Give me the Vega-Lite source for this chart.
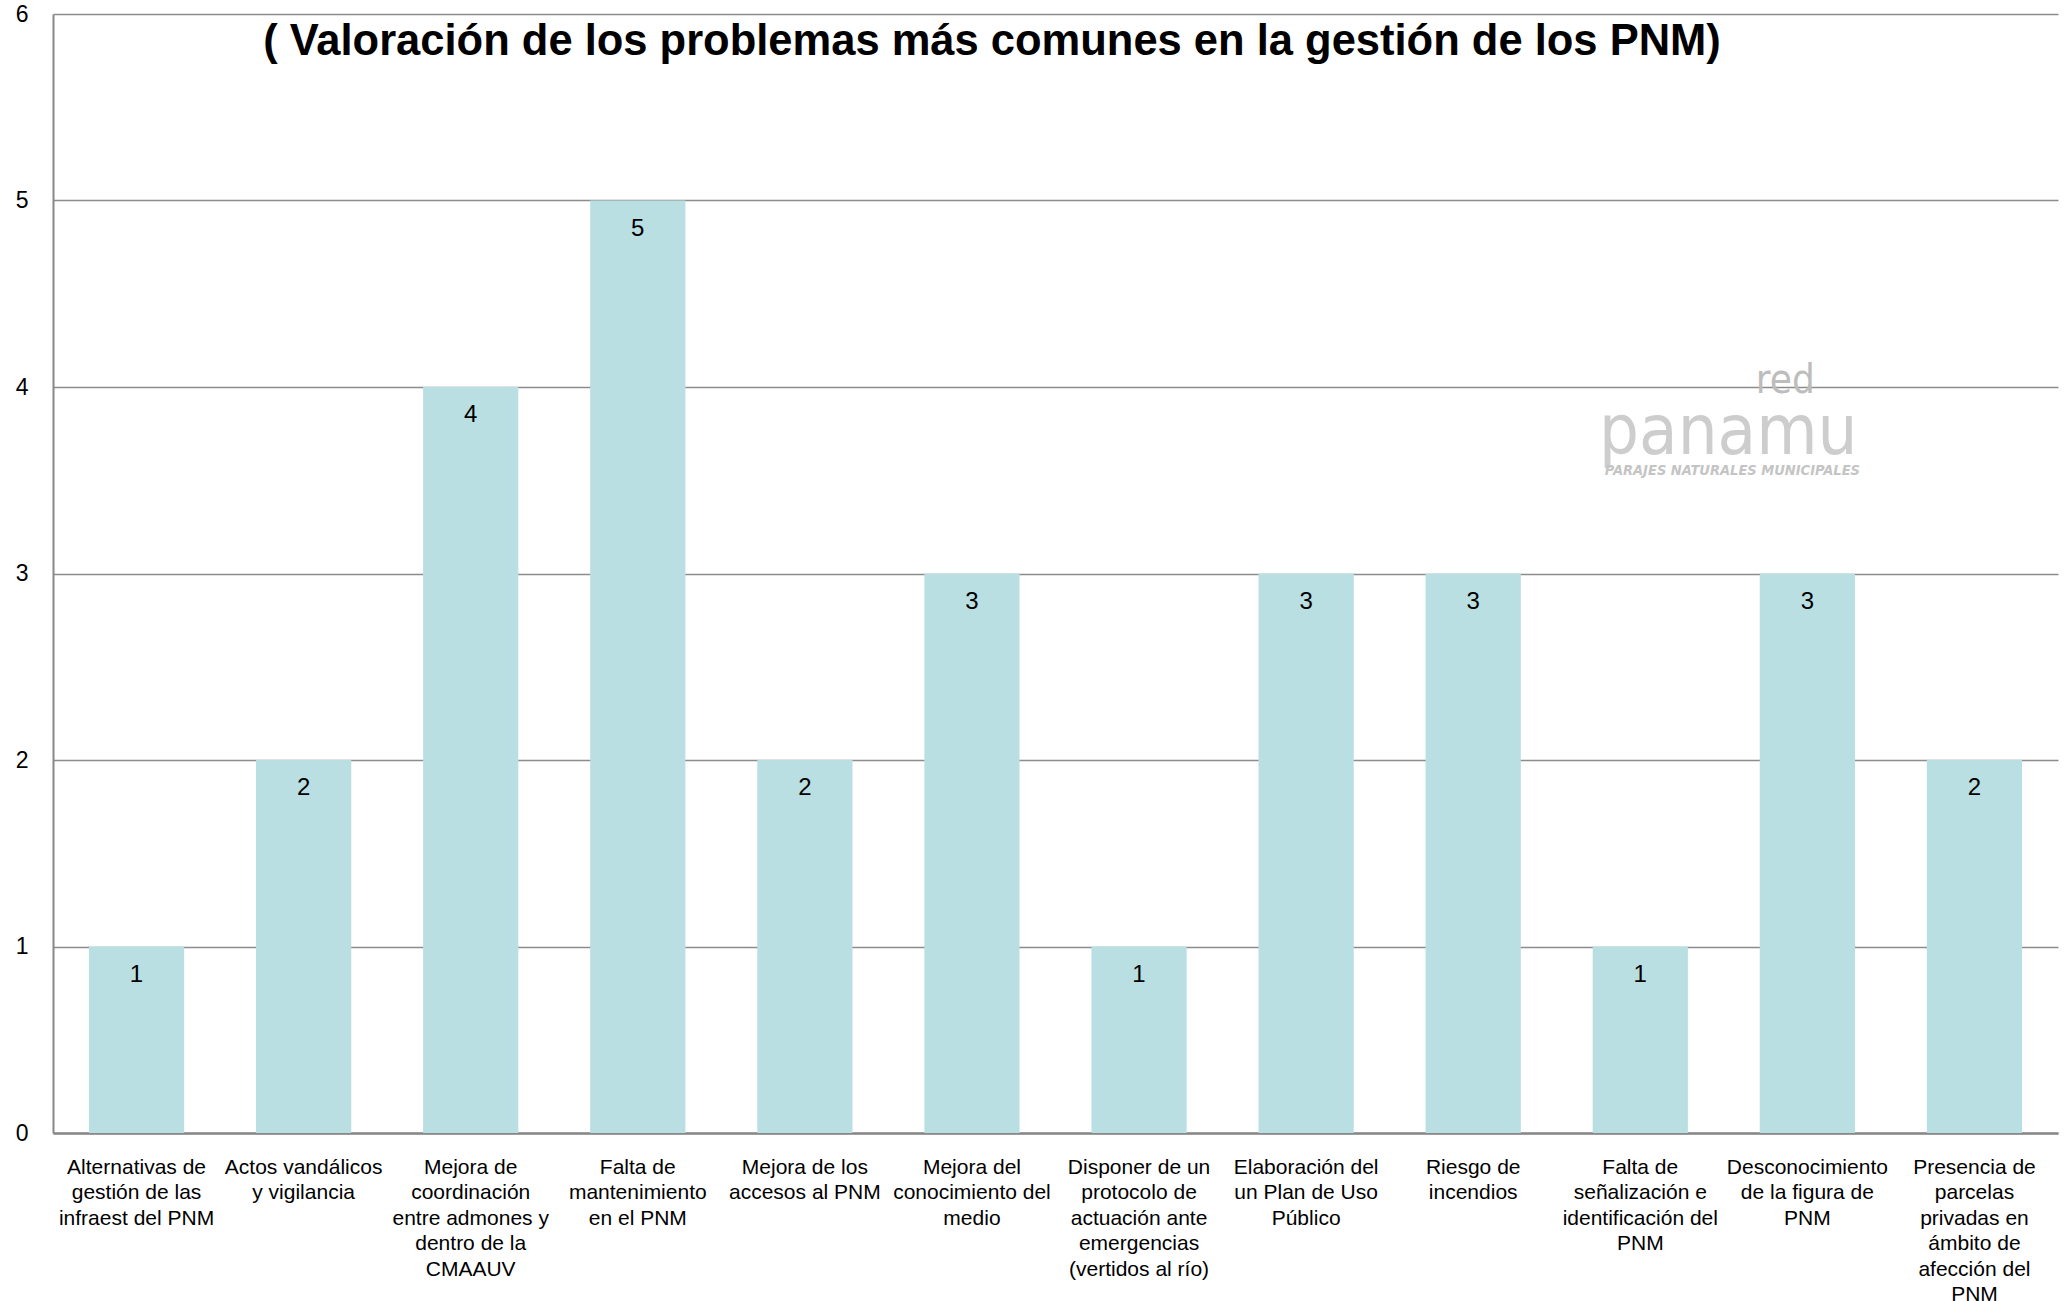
{
  "$schema": "https://vega.github.io/schema/vega-lite/v6.json",
  "width": 2005,
  "height": 1119,
  "autosize": {"type": "none"},
  "padding": {"left": 53, "top": 14, "right": 9, "bottom": 168},
  "background": "white",
  "config": {
    "view": {"stroke": null},
    "font": "Liberation Sans"
  },
  "datasets": {
    "problemas": [
      {"problema": "Alternativas de|gestión de las|infraest del PNM", "valor": 1},
      {"problema": "Actos vandálicos|y vigilancia", "valor": 2},
      {"problema": "Mejora de|coordinación|entre admones y|dentro de la|CMAAUV", "valor": 4},
      {"problema": "Falta de|mantenimiento|en el PNM", "valor": 5},
      {"problema": "Mejora de los|accesos al PNM", "valor": 2},
      {"problema": "Mejora del|conocimiento del|medio", "valor": 3},
      {"problema": "Disponer de un|protocolo de|actuación ante|emergencias|(vertidos al río)", "valor": 1},
      {"problema": "Elaboración del|un Plan de Uso|Público", "valor": 3},
      {"problema": "Riesgo de|incendios", "valor": 3},
      {"problema": "Falta de|señalización e|identificación del|PNM", "valor": 1},
      {"problema": "Desconocimiento|de la figura de|PNM", "valor": 3},
      {"problema": "Presencia de|parcelas|privadas en|ámbito de|afección del|PNM", "valor": 2}
    ],
    "subtitulo": [
      {"texto": "( Valoración de los problemas más comunes en la gestión de los PNM)"}
    ],
    "logo_red": [{"texto": "red"}],
    "logo_panamu": [{"texto": "panamu"}],
    "logo_lema": [{"texto": "PARAJES NATURALES MUNICIPALES"}]
  },
  "layer": [
    {
      "data": {"name": "problemas"},
      "mark": {"type": "bar", "color": "#badfe3"},
      "encoding": {
        "x": {
          "field": "problema",
          "type": "nominal",
          "sort": null,
          "title": null,
          "scale": {"paddingInner": 0.43, "paddingOuter": 0.215},
          "axis": {
            "labelExpr": "split(datum.label, '|')",
            "labelAngle": 0,
            "labelFont": "Liberation Sans",
            "labelFontSize": 21,
            "labelLineHeight": 25.5,
            "labelColor": "black",
            "labelBaseline": "top",
            "labelPadding": 23,
            "labelLimit": 0,
            "labelOverlap": false,
            "ticks": false,
            "domainColor": "#888888",
            "domainWidth": 2.5,
            "grid": false
          }
        },
        "y": {
          "field": "valor",
          "type": "quantitative",
          "title": null,
          "scale": {"domain": [0, 6], "nice": false},
          "axis": {
            "values": [0, 1, 2, 3, 4, 5, 6],
            "format": "d",
            "labelFont": "Liberation Sans",
            "labelFontSize": 23,
            "labelColor": "black",
            "labelPadding": 25,
            "ticks": false,
            "domainColor": "#888888",
            "domainWidth": 2,
            "grid": true,
            "gridColor": "#8c8c8c",
            "gridWidth": 1.5
          }
        }
      }
    },
    {
      "data": {"name": "problemas"},
      "mark": {"type": "text", "baseline": "middle", "align": "center", "dy": 28, "fontSize": 24, "font": "Liberation Sans", "color": "black"},
      "encoding": {
        "x": {"field": "problema", "type": "nominal", "sort": null},
        "y": {"field": "valor", "type": "quantitative"},
        "text": {"field": "valor", "type": "quantitative"}
      }
    },
    {
      "data": {"name": "subtitulo"},
      "mark": {"type": "text", "font": "Liberation Sans", "fontSize": 43.5, "fontWeight": "bold", "color": "black", "baseline": "alphabetic", "align": "center", "dx": 20, "dy": 41},
      "encoding": {
        "x": {"datum": "Mejora del|conocimiento del|medio", "type": "nominal"},
        "y": {"datum": 6, "type": "quantitative"},
        "text": {"field": "texto", "type": "nominal"}
      }
    },
    {
      "data": {"name": "logo_red"},
      "mark": {"type": "text", "font": "DejaVu Sans Condensed", "fontSize": 40, "color": "#bdbdbd", "baseline": "alphabetic", "align": "center", "dx": 145},
      "encoding": {
        "x": {"datum": "Falta de|señalización e|identificación del|PNM", "type": "nominal"},
        "y": {"datum": 3.968, "type": "quantitative"},
        "text": {"field": "texto", "type": "nominal"}
      }
    },
    {
      "data": {"name": "logo_panamu"},
      "mark": {"type": "text", "font": "DejaVu Sans Condensed", "fontSize": 70, "color": "#cdcdcd", "baseline": "alphabetic", "align": "center", "dx": 88},
      "encoding": {
        "x": {"datum": "Falta de|señalización e|identificación del|PNM", "type": "nominal"},
        "y": {"datum": 3.64, "type": "quantitative"},
        "text": {"field": "texto", "type": "nominal"}
      }
    },
    {
      "data": {"name": "logo_lema"},
      "mark": {"type": "text", "font": "DejaVu Sans Condensed", "fontSize": 14.5, "fontStyle": "italic", "fontWeight": "bold", "color": "#c4c4c4", "baseline": "alphabetic", "align": "center", "dx": 92},
      "encoding": {
        "x": {"datum": "Falta de|señalización e|identificación del|PNM", "type": "nominal"},
        "y": {"datum": 3.53, "type": "quantitative"},
        "text": {"field": "texto", "type": "nominal"}
      }
    }
  ]
}
